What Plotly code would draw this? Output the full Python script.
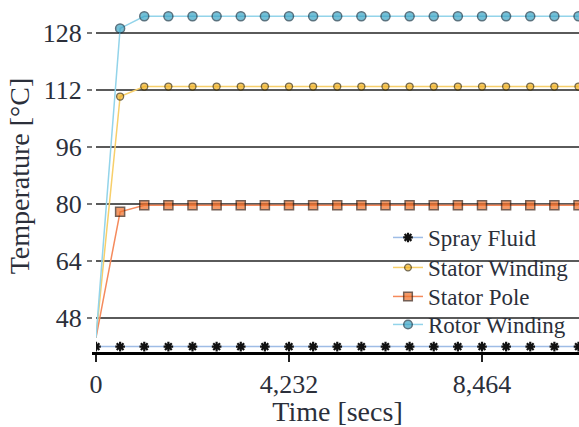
import plotly.graph_objects as go

time_s = [0, 529, 1058, 1587, 2116, 2645, 3174, 3703, 4232, 4761, 5290,
          5819, 6348, 6877, 7406, 7935, 8464, 8993, 9522, 10051, 10580]
spray_fluid = [40.0, 40.0, 40.0, 40.0, 40.0, 40.0, 40.0, 40.0, 40.0, 40.0, 40.0,
               40.0, 40.0, 40.0, 40.0, 40.0, 40.0, 40.0, 40.0, 40.0, 40.0]
stator_winding = [42.5, 110.1, 112.9, 112.9, 112.9, 112.9, 112.9, 112.9, 112.9, 112.9, 112.9,
                  112.9, 112.9, 112.9, 112.9, 112.9, 112.9, 112.9, 112.9, 112.9, 112.9]
stator_pole = [42.5, 77.8, 79.6, 79.6, 79.6, 79.6, 79.6, 79.6, 79.6, 79.6, 79.6,
               79.6, 79.6, 79.6, 79.6, 79.6, 79.6, 79.6, 79.6, 79.6, 79.6]
rotor_winding = [42.5, 129.2, 132.6, 132.6, 132.6, 132.6, 132.6, 132.6, 132.6, 132.6, 132.6,
                 132.6, 132.6, 132.6, 132.6, 132.6, 132.6, 132.6, 132.6, 132.6, 132.6]

x_tickvals = [0, 4232, 8464]
x_ticktext = ["0", "4,232", "8,464"]
y_tickvals = [48, 64, 80, 96, 112, 128]

FONT = "Liberation Serif"
TXT = "#2b2f3a"
n = len(time_s)


def sizes(s):
    # hide the marker of the starting point (as in the original chart)
    return [0] + [s] * (n - 1)


fig = go.Figure()
fig.add_trace(go.Scatter(
    x=time_s, y=spray_fluid, name="Spray Fluid", mode="lines+markers", legend="legend",
    line=dict(color="#9fbde6", width=1.5),
    marker=dict(symbol="asterisk-open", size=8, color="#111111",
                line=dict(color="#111111", width=2.2))))
fig.add_trace(go.Scatter(
    x=time_s, y=stator_winding, name="Stator Winding", mode="lines+markers", legend="legend2",
    line=dict(color="#f7cf6a", width=1.5),
    marker=dict(symbol="circle", size=sizes(7), color="#f0b020",
                line=dict(color="#3a2c08", width=1.3))))
fig.add_trace(go.Scatter(
    x=time_s, y=stator_pole, name="Stator Pole", mode="lines+markers", legend="legend3",
    line=dict(color="#f58a5c", width=1.5),
    marker=dict(symbol="square", size=sizes(9), color="#f06f28",
                line=dict(color="#3a1c0c", width=1.5))))
fig.add_trace(go.Scatter(
    x=time_s, y=rotor_winding, name="Rotor Winding", mode="lines+markers", legend="legend4",
    line=dict(color="#93d4ea", width=1.5),
    marker=dict(symbol="circle", size=sizes(9), color="#3aa5c6",
                line=dict(color="#17384a", width=1.5))))

PLOT_L, PLOT_W, PLOT_H = 96, 483, 352


def px_x(px):
    return (px - PLOT_L) / PLOT_W


def px_y(py):
    return 1 - py / PLOT_H


def leg(top_px):
    return dict(x=px_x(388), y=px_y(top_px), xanchor="left", yanchor="top",
                bgcolor="rgba(0,0,0,0)", borderwidth=0,
                font=dict(family=FONT, size=23, color=TXT))


# white legend box that hides the grid lines behind the legend
fig.add_shape(type="rect", xref="paper", yref="paper",
              x0=px_x(392), x1=px_x(572), y0=px_y(340), y1=px_y(224),
              fillcolor="white", line=dict(width=0), layer="between")

fig.update_layout(
    width=579, height=427,
    margin=dict(l=PLOT_L, r=0, t=0, b=75),
    paper_bgcolor="white", plot_bgcolor="white",
    font=dict(family=FONT, color=TXT, size=26),
    showlegend=True,
    legend=leg(216), legend2=leg(246), legend3=leg(275), legend4=leg(303),
    xaxis=dict(
        range=[0, 10591], tickvals=x_tickvals, ticktext=x_ticktext,
        showgrid=False, zeroline=False,
        showline=True, linecolor="#000000", linewidth=3,
        ticks="outside", ticklen=7, tickwidth=1.5, tickcolor="#222222",
        tickfont=dict(family=FONT, size=26, color=TXT),
        title=dict(text="Time [secs]", font=dict(family=FONT, size=28, color=TXT), standoff=2)),
    yaxis=dict(
        range=[38.48, 137.16], tickvals=y_tickvals,
        showgrid=True, gridcolor="#5a5a5a", gridwidth=2, zeroline=False,
        showline=True, linecolor="white", linewidth=4,
        ticks="outside", ticklen=5, tickwidth=2, tickcolor="#777777",
        tickfont=dict(family=FONT, size=26, color=TXT),
        title=dict(text="Temperature [°C]", font=dict(family=FONT, size=28, color=TXT), standoff=6)),
)

fig.write_html("out.html")
